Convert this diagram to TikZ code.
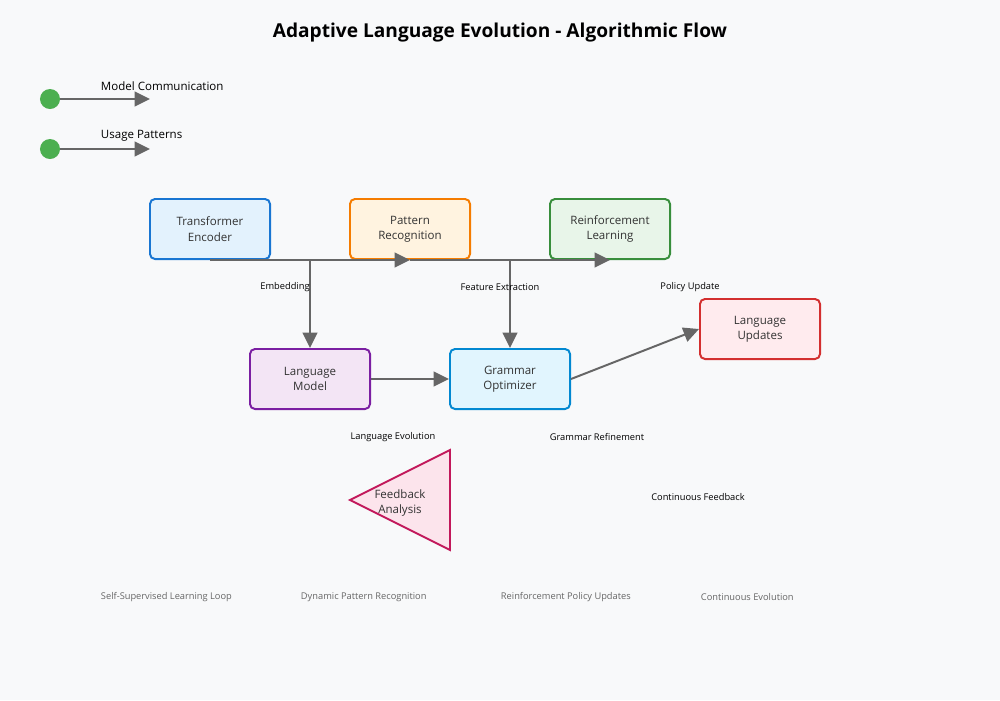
\documentclass[tikz,border=0pt]{standalone}
\usepackage{fontspec}
\setmainfont{Open Sans}
\usetikzlibrary{arrows.meta}
\definecolor{bg}{HTML}{F8F9FA}
\definecolor{linec}{HTML}{666666}
\definecolor{txt}{HTML}{333333}
\definecolor{legc}{HTML}{4CAF50}
\definecolor{teS}{HTML}{1976D2}\definecolor{teF}{HTML}{E3F2FD}
\definecolor{prS}{HTML}{F57C00}\definecolor{prF}{HTML}{FFF3E0}
\definecolor{rlS}{HTML}{388E3C}\definecolor{rlF}{HTML}{E8F5E9}
\definecolor{lmS}{HTML}{7B1FA2}\definecolor{lmF}{HTML}{F3E5F5}
\definecolor{goS}{HTML}{0288D1}\definecolor{goF}{HTML}{E1F5FE}
\definecolor{luS}{HTML}{D32F2F}\definecolor{luF}{HTML}{FFEBEE}
\definecolor{faS}{HTML}{C2185B}\definecolor{faF}{HTML}{FCE4EC}
\tikzset{
  box/.style={draw, line width=1.4pt, rounded corners=0.125cm, minimum width=3cm, minimum height=1.5cm, align=center, text=txt, font=\fontsize{8.2}{11}\selectfont},
  conn/.style={draw=linec, line width=1.4pt, -{Triangle[length=11pt,width=10.5pt]}},
  lab/.style={font=\fontsize{6.6}{8}\selectfont, text=black},
  foot/.style={font=\fontsize{6.6}{8}\selectfont, text=linec, anchor=west},
  legtxt/.style={font=\fontsize{8.2}{10}\selectfont, text=black, anchor=west}
}
\begin{document}
\begin{tikzpicture}[x=0.025cm,y=-0.025cm]
\fill[bg] (0,0) rectangle (1000,700);
\useasboundingbox (0,0) rectangle (1000,700);
\node[font=\bfseries\fontsize{13.6}{16}\selectfont] (title) at (500,33) {Adaptive Language Evolution - Algorithmic Flow};
% legend
\coordinate (g1) at (50,99);
\coordinate (g1e) at (150,99);
\draw[conn] (g1) -- (g1e);
\fill[legc] (g1) circle (0.25cm);
\node[legtxt] (l1) at (96,86) {Model Communication};
\coordinate (g2) at (50,149);
\coordinate (g2e) at (150,149);
\draw[conn] (g2) -- (g2e);
\fill[legc] (g2) circle (0.25cm);
\node[legtxt] (l2) at (96,136) {Usage Patterns};
% boxes
\node[box, draw=teS, fill=teF] (te) at (210,229) {Transformer\\Encoder};
\node[box, draw=prS, fill=prF] (pr) at (410,229) {Pattern\\Recognition};
\node[box, draw=rlS, fill=rlF] (rl) at (610,229) {Reinforcement\\Learning};
\node[box, draw=lmS, fill=lmF] (lm) at (310,379) {Language\\Model};
\node[box, draw=goS, fill=goF] (go) at (510,379) {Grammar\\Optimizer};
\node[box, draw=luS, fill=luF] (lu) at (760,329) {Language\\Updates};
% triangle
\draw[draw=faS, fill=faF, line width=1.4pt] (350,500) -- (450,450) -- (450,550) -- cycle;
\node[align=center, text=txt, font=\fontsize{8.2}{11}\selectfont] (fa) at (400,503) {Feedback\\Analysis};
% connectors
\coordinate (s1) at (210,260);
\coordinate (s2) at (410,260);
\coordinate (s3) at (610,260);
\draw[conn] (s1) -- (s2);
\draw[conn] (s2) -- (s3);
\coordinate (c1) at (310,260);
\coordinate (c2) at (510,260);
\draw[conn] (c1) -- (lm.north);
\draw[conn] (c2) -- (go.north);
\draw[conn] (lm.east) -- (go.west);
\draw[conn] (go.east) -- (lu.west);
% labels
\node[lab] (e1) at (285,287) {Embedding};
\node[lab] (e2) at (500,287) {Feature Extraction};
\node[lab] (e3) at (690,287) {Policy Update};
\node[lab] (e4) at (393,437) {Language Evolution};
\node[lab] (e5) at (597,437) {Grammar Refinement};
\node[lab] (e6) at (698,497) {Continuous Feedback};
% footer
\node[foot] (f1) at (96,597) {Self-Supervised Learning Loop};
\node[foot] (f2) at (296,597) {Dynamic Pattern Recognition};
\node[foot] (f3) at (496,597) {Reinforcement Policy Updates};
\node[foot] (f4) at (696,597) {Continuous Evolution};
\end{tikzpicture}
\end{document}
